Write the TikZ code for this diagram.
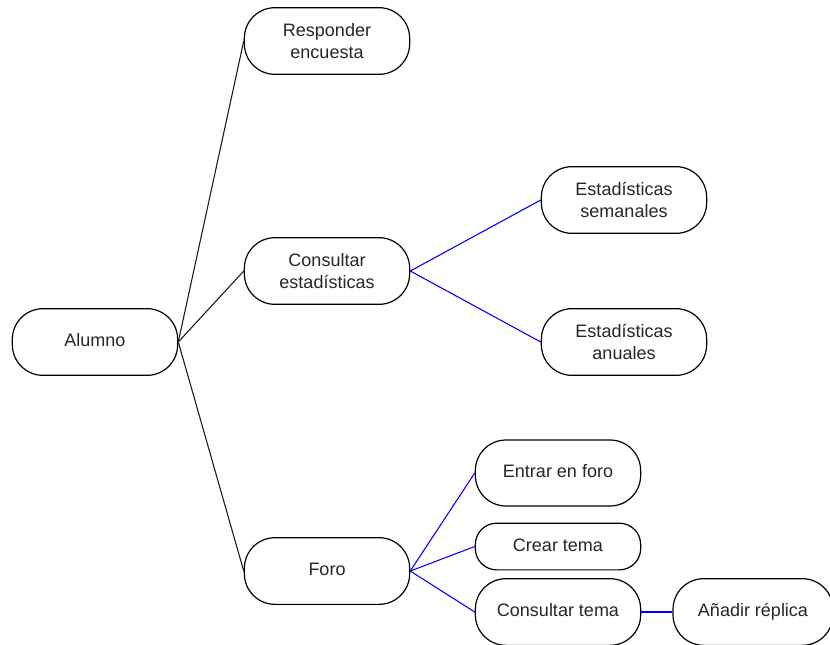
\documentclass[tikz,border=0pt]{standalone}
\usepackage{fontspec}
\setmainfont{Liberation Sans}
\begin{document}
\begin{tikzpicture}[x=0.75pt,y=-0.75pt,
  box/.style={draw, line width=0.9pt, rounded corners=23pt, minimum width=124pt,
    minimum height=50pt, align=center, inner sep=0pt,
    font=\fontsize{13.5pt}{16.5pt}\selectfont, text=black!85},
  single/.style={text height=10pt, text depth=3pt},
  smallbox/.style={box, minimum height=35pt, rounded corners=16pt},
  blk/.style={draw=black!90, line width=0.8pt},
  blu/.style={draw=blue, line width=0.8pt}]
\clip (0,0) rectangle (830,644);
\fill[white] (0,0) rectangle (830,644);
\node[box, single] (alumno) at (95,342) {Alumno};
\node[box] (resp) at (327,41) {Responder\\encuesta};
\node[box] (cest) at (327,271) {Consultar\\estadísticas};
\node[box, single] (foro) at (327,571) {Foro};
\node[box] (sem) at (624,200) {Estadísticas\\semanales};
\node[box] (anu) at (624,342) {Estadísticas\\anuales};
\node[box, single, minimum height=49.5pt] (entrar) at (558,473) {Entrar en foro};
\node[smallbox, single] (crear) at (558,546.5) {Crear tema};
\node[box, single] (ctema) at (558,612) {Consultar tema};
\node[box, single, minimum width=120pt] (anadir) at (753,612) {Añadir réplica};
\draw[blk] (alumno.east) -- (resp.west);
\draw[blk] (alumno.east) -- (cest.west);
\draw[blk] (alumno.east) -- (foro.west);
\draw[blu] (cest.east) -- (sem.west);
\draw[blu] (cest.east) -- (anu.west);
\draw[blu] (foro.east) -- (entrar.west);
\draw[blu] (foro.east) -- (crear.west);
\draw[blu] (foro.east) -- (ctema.west);
\draw[blu] (ctema.east) -- (anadir.west);
\end{tikzpicture}
\end{document}
